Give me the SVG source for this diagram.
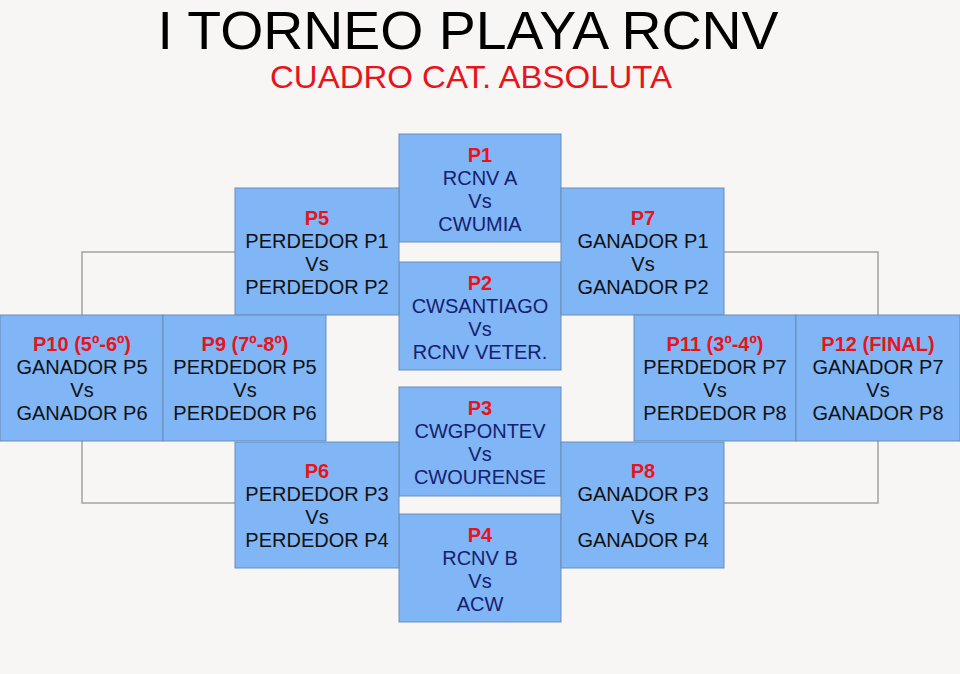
<svg xmlns="http://www.w3.org/2000/svg" width="960" height="674" viewBox="0 0 960 674">
<style>
.bg{fill:#f7f6f4}
.box{fill:#80b5f6;stroke:#6b8db5;stroke-width:1}
.conn{fill:none;stroke:#a3a3a3;stroke-width:1.5}
text{font-family:"Liberation Sans",Arial,Helvetica,sans-serif;font-size:20px;text-anchor:middle}
.h{fill:#e8141c;font-weight:bold}
.k{fill:#111}
.t{fill:#16206e}
</style>
<rect class="bg" x="0" y="0" width="960" height="674"/>
<text x="468" y="49" style="font-size:54px" fill="#000" textLength="621" lengthAdjust="spacingAndGlyphs">I TORNEO PLAYA RCNV</text>
<text x="471" y="88" style="font-size:32px" fill="#e8141c" textLength="402" lengthAdjust="spacingAndGlyphs">CUADRO CAT. ABSOLUTA</text>
<g id="connectors">
<polyline class="conn" points="235,252 82,252 82,315"/>
<polyline class="conn" points="82,441 82,503 235,503"/>
<polyline class="conn" points="724,252 878,252 878,315"/>
<polyline class="conn" points="878,441 878,503 724,503"/>
</g>
<g id="P1"><rect class="box" x="399" y="134" width="162" height="108"/>
<text x="480" y="162" class="h">P1</text><text x="480" y="185" class="t">RCNV A</text><text x="480" y="208" class="t">Vs</text><text x="480" y="231" class="t">CWUMIA</text></g>
<g id="P2"><rect class="box" x="399" y="262" width="162" height="108"/>
<text x="480" y="290" class="h">P2</text><text x="480" y="313" class="t">CWSANTIAGO</text><text x="480" y="336" class="t">Vs</text><text x="480" y="359" class="t">RCNV VETER.</text></g>
<g id="P3"><rect class="box" x="399" y="387" width="162" height="109"/>
<text x="480" y="415" class="h">P3</text><text x="480" y="438" class="t">CWGPONTEV</text><text x="480" y="461" class="t">Vs</text><text x="480" y="484" class="t">CWOURENSE</text></g>
<g id="P4"><rect class="box" x="399" y="514" width="162" height="108"/>
<text x="480" y="542" class="h">P4</text><text x="480" y="565" class="t">RCNV B</text><text x="480" y="588" class="t">Vs</text><text x="480" y="611" class="t">ACW</text></g>
<g id="P5"><rect class="box" x="235" y="188" width="164" height="127"/>
<text x="317" y="225" class="h">P5</text><text x="317" y="248" class="k">PERDEDOR P1</text><text x="317" y="271" class="k">Vs</text><text x="317" y="294" class="k">PERDEDOR P2</text></g>
<g id="P6"><rect class="box" x="235" y="442" width="164" height="126"/>
<text x="317" y="478" class="h">P6</text><text x="317" y="501" class="k">PERDEDOR P3</text><text x="317" y="524" class="k">Vs</text><text x="317" y="547" class="k">PERDEDOR P4</text></g>
<g id="P7"><rect class="box" x="561" y="188" width="163" height="127"/>
<text x="643" y="225" class="h">P7</text><text x="643" y="248" class="k">GANADOR P1</text><text x="643" y="271" class="k">Vs</text><text x="643" y="294" class="k">GANADOR P2</text></g>
<g id="P8"><rect class="box" x="561" y="442" width="163" height="126"/>
<text x="643" y="478" class="h">P8</text><text x="643" y="501" class="k">GANADOR P3</text><text x="643" y="524" class="k">Vs</text><text x="643" y="547" class="k">GANADOR P4</text></g>
<g id="P10"><rect class="box" x="0" y="315" width="163" height="126"/>
<text x="82" y="351" class="h">P10 (5º-6º)</text><text x="82" y="374" class="k">GANADOR P5</text><text x="82" y="397" class="k">Vs</text><text x="82" y="420" class="k">GANADOR P6</text></g>
<g id="P9"><rect class="box" x="163" y="315" width="163" height="126"/>
<text x="245" y="351" class="h">P9 (7º-8º)</text><text x="245" y="374" class="k">PERDEDOR P5</text><text x="245" y="397" class="k">Vs</text><text x="245" y="420" class="k">PERDEDOR P6</text></g>
<g id="P11"><rect class="box" x="634" y="315" width="162" height="126"/>
<text x="715" y="351" class="h">P11 (3º-4º)</text><text x="715" y="374" class="k">PERDEDOR P7</text><text x="715" y="397" class="k">Vs</text><text x="715" y="420" class="k">PERDEDOR P8</text></g>
<g id="P12"><rect class="box" x="796" y="315" width="164" height="126"/>
<text x="878" y="351" class="h">P12 (FINAL)</text><text x="878" y="374" class="k">GANADOR P7</text><text x="878" y="397" class="k">Vs</text><text x="878" y="420" class="k">GANADOR P8</text></g>
</svg>
